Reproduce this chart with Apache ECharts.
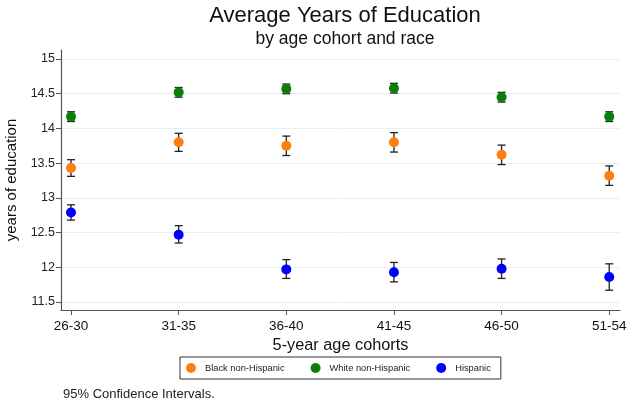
<!DOCTYPE html>
<html>
<head>
<meta charset="utf-8">
<script src="https://cdn.jsdelivr.net/npm/echarts@6/dist/echarts.min.js"></script>
<style>
  html, body { margin: 0; padding: 0; background: #fff; }
  #chart { width: 629px; height: 404px; }
</style>
</head>
<body>
<div id="chart"></div>
<script>
const cohorts = ["26-30", "31-35", "36-40", "41-45", "46-50", "51-54"];
const yTicks = [11.5, 12, 12.5, 13, 13.5, 14, 14.5, 15];

// mean, lower CI, upper CI per cohort
const blackMean = [13.43, 13.80, 13.75, 13.80, 13.62, 13.32];
const blackLow  = [13.31, 13.67, 13.61, 13.66, 13.48, 13.18];
const blackHigh = [13.55, 13.93, 13.89, 13.94, 13.76, 13.46];

const whiteMean = [14.17, 14.52, 14.57, 14.58, 14.45, 14.17];
const whiteLow  = [14.10, 14.45, 14.50, 14.51, 14.38, 14.10];
const whiteHigh = [14.24, 14.59, 14.64, 14.65, 14.52, 14.24];

const hispMean = [12.79, 12.47, 11.97, 11.93, 11.98, 11.86];
const hispLow  = [12.68, 12.35, 11.84, 11.79, 11.84, 11.67];
const hispHigh = [12.90, 12.60, 12.11, 12.07, 12.12, 12.05];

const colors = { black: "#ff7f0e", white: "#0a7f0a", hisp: "#0000ff" };

const chart = echarts.init(document.getElementById("chart"));

function errorSeries(low, high) {
  return {
    type: "custom",
    silent: true,
    z: 1,
    data: low.map((l, i) => [i, l, high[i]]),
    renderItem: (params, api) => {
      const lo = api.coord([api.value(0), api.value(1)]);
      const hi = api.coord([api.value(0), api.value(2)]);
      const w = 4;
      const style = { stroke: "#222", lineWidth: 1.3 };
      return {
        type: "group",
        children: [
          { type: "line", shape: { x1: lo[0], y1: lo[1], x2: hi[0], y2: hi[1] }, style },
          { type: "line", shape: { x1: lo[0] - w, y1: lo[1], x2: lo[0] + w, y2: lo[1] }, style },
          { type: "line", shape: { x1: hi[0] - w, y1: hi[1], x2: hi[0] + w, y2: hi[1] }, style }
        ]
      };
    }
  };
}

function pointSeries(name, mean, color) {
  return {
    name: name,
    type: "scatter",
    z: 3,
    symbol: "circle",
    symbolSize: 10,
    itemStyle: { color: color, opacity: 1 },
    data: mean.map((v, i) => [i, v])
  };
}

const option = {
  animation: false,
  title: [
    {
      text: "Average Years of Education",
      subtext: "by age cohort and race",
      left: 340,
      textAlign: "center",
      top: 0,
      itemGap: 3,
      textStyle: { fontFamily: "Liberation Sans", fontSize: 22, fontWeight: "normal", color: "#111" },
      subtextStyle: { fontFamily: "Liberation Sans", fontSize: 17.5, color: "#111" }
    },
    {
      text: "95% Confidence Intervals.",
      left: 58,
      top: 383,
      textStyle: { fontFamily: "Liberation Sans", fontSize: 13, fontWeight: "normal", color: "#222" }
    }
  ],
  legend: {
    left: 180,
    top: 357,
    padding: [6, 10, 6, 6],
    itemGap: 26,
    itemWidth: 10,
    itemHeight: 10,
    icon: "circle",
    borderColor: "#333",
    borderWidth: 1,
    textStyle: { fontFamily: "Liberation Sans", fontSize: 9.3, color: "#222", padding: [0, 0, 0, 4] },
    data: ["Black non-Hispanic", "White non-Hispanic", "Hispanic"]
  },
  grid: { left: 61, right: 9, top: 50, bottom: 94, containLabel: false, outerBoundsMode: "none" },
  xAxis: {
    type: "value",
    min: -0.093,
    max: 5.1,
    name: "5-year age cohorts",
    nameLocation: "middle",
    nameGap: 26,
    nameTextStyle: { fontFamily: "Liberation Sans", fontSize: 16.3, color: "#111" },
    axisLine: { show: true, onZero: false, lineStyle: { color: "#555", width: 1.2 } },
    axisTick: { show: true, length: 5, lineStyle: { color: "#555" }, customValues: [0, 1, 2, 3, 4, 5] },
    axisLabel: {
      customValues: [0, 1, 2, 3, 4, 5],
      formatter: v => cohorts[Math.round(v)],
      fontFamily: "Liberation Sans",
      fontSize: 13.5,
      color: "#111",
      margin: 9
    },
    splitLine: { show: false }
  },
  yAxis: {
    type: "value",
    min: 11.385,
    max: 15.13,
    name: "years of education",
    nameLocation: "middle",
    nameGap: 37,
    nameTextStyle: { fontFamily: "Liberation Sans", fontSize: 15, color: "#111" },
    axisLine: { show: true, onZero: false, lineStyle: { color: "#555", width: 1.2 } },
    axisTick: { show: true, length: 5, lineStyle: { color: "#555" }, customValues: yTicks },
    axisLabel: {
      customValues: yTicks,
      fontFamily: "Liberation Sans",
      fontSize: 12.5,
      color: "#222",
      margin: 6
    },
    splitLine: { show: true, lineStyle: { color: "#e6eff1", width: 1 } }
  },
  series: [
    errorSeries(blackLow, blackHigh),
    errorSeries(whiteLow, whiteHigh),
    errorSeries(hispLow, hispHigh),
    pointSeries("Black non-Hispanic", blackMean, colors.black),
    pointSeries("White non-Hispanic", whiteMean, colors.white),
    pointSeries("Hispanic", hispMean, colors.hisp)
  ]
};

chart.setOption(option);
</script>
</body>
</html>
